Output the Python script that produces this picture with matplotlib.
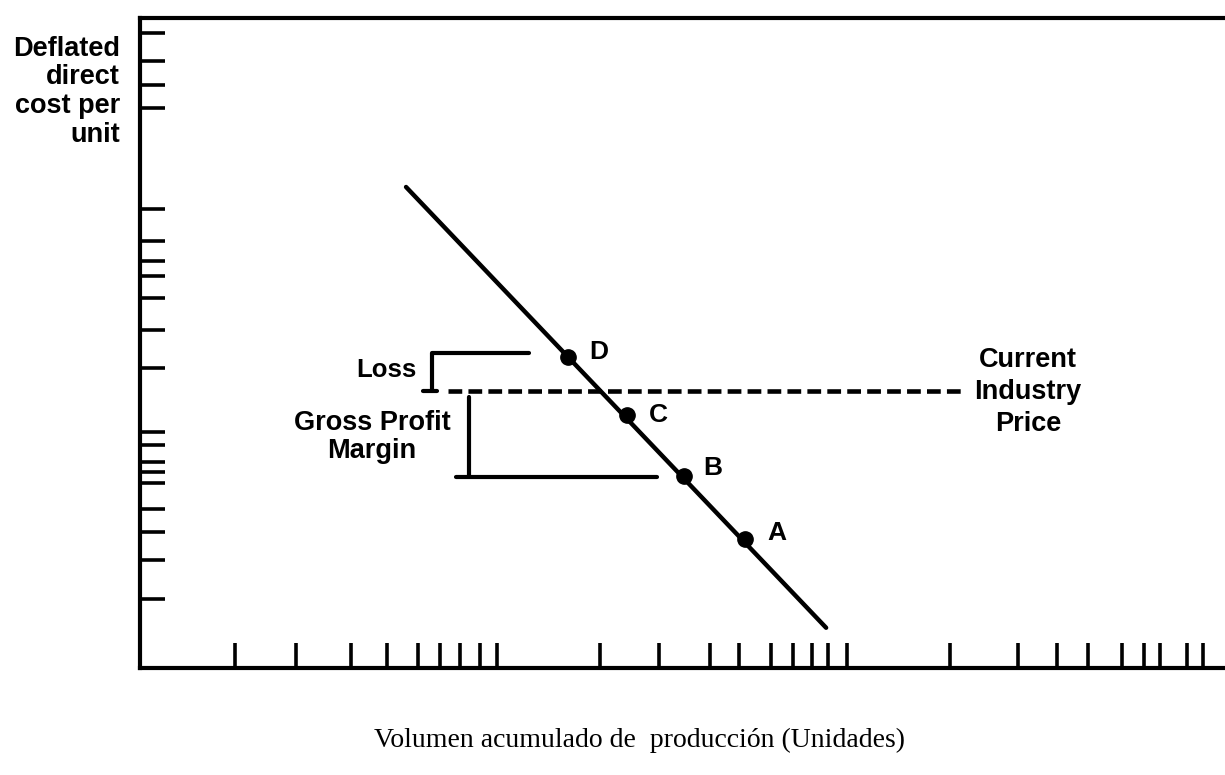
import matplotlib.pyplot as plt

# Curva de experiencia (volumen acumulado vs. coste unitario, escala log-log)
curva_volumen = [5.44, 78.9]
curva_coste = [30.2, 1.33]

puntos = ["D", "C", "B", "A"]
puntos_volumen = [15.26, 22.2, 31.9, 47.1]
puntos_coste = [9.06, 6.00, 3.90, 2.49]

# Precio actual de la industria
precio = 7.12
precio_desde = 7.11
precio_hasta = 191

# Corchetes de pérdida y margen bruto
perdida_x = 6.42
perdida_tope = 9.31
perdida_hasta = 11.9
perdida_pie = [6.06, 6.63]
margen_x = 8.12
margen_desde = 6.82
margen_fondo = 3.87
margen_linea = [7.48, 26.9]

# Marcas de los ejes (dibujadas a mano en el original)
marcas_x = [1.83, 2.70, 3.83, 4.82, 5.87, 6.75, 7.67, 8.71, 9.71,
            18.7, 27.2, 37.7, 45.3, 55.5, 63.9, 72.1, 79.9, 90.1,
            173.6, 267.7, 343.1, 418.0, 519.1, 597.0, 661.2, 785.2, 869.6]
marcas_y = [89.9, 73.8, 62.2, 52.9, 25.8, 20.6, 17.9, 16.1, 13.8, 11.0,
            8.38, 5.32, 4.86, 4.30, 4.01, 3.71, 3.08, 2.62, 2.15, 1.63]

desplaz_etiquetas = [(21, 5), (22, 0), (19, 8), (22, 6)]

plt.rcParams['font.family'] = ['Liberation Sans', 'DejaVu Sans']
plt.rcParams['font.weight'] = 'bold'

fig = plt.figure(figsize=(12.25, 7.75), dpi=100)
ax = fig.add_axes([140 / 1225, 1 - 668 / 775, 1 - 140 / 1225, 650 / 775])
ax.set_xscale('log')
ax.set_yscale('log')
ax.set_xlim(1, 1000)
ax.set_ylim(1, 100)

# Curva y puntos
ax.plot(curva_volumen, curva_coste, color='black', lw=3.2, solid_capstyle='round')
ax.plot(puntos_volumen, puntos_coste, 'o', color='black', ms=11)
for nombre, x, y, d in zip(puntos, puntos_volumen, puntos_coste, desplaz_etiquetas):
  ax.annotate(nombre, (x, y), xytext=d, textcoords='offset pixels',
              ha='left', va='center', fontsize=19)

# Línea de precio
ax.plot([precio_desde, precio_hasta], [precio, precio], color='black', lw=3.3,
        dashes=(3.0, 1.35), dash_capstyle='butt')
ax.text(285, 7.07, "Current\nIndustry\nPrice", ha='center', va='center',
        fontsize=19.5, linespacing=1.32)

# Corchete de pérdida
ax.plot([perdida_hasta, perdida_x, perdida_x], [perdida_tope, perdida_tope, precio],
        color='black', lw=3, solid_capstyle='round')
ax.plot(perdida_pie, [precio, precio], color='black', lw=3, solid_capstyle='round')
ax.text(5.83, 8.26, "Loss", ha='right', va='center', fontsize=18.5)

# Corchete de margen bruto
ax.plot([margen_x, margen_x], [margen_desde, margen_fondo], color='black', lw=3,
        solid_capstyle='round')
ax.plot(margen_linea, [margen_fondo, margen_fondo], color='black', lw=3,
        solid_capstyle='round')
ax.text(4.38, 5.14, "Gross Profit\nMargin", ha='center', va='center',
        fontsize=19.5, linespacing=1.06)

# Ejes
ax.spines['right'].set_visible(False)
for lado in ['left', 'top', 'bottom']:
  ax.spines[lado].set_linewidth(3)
ax.set_xticks(marcas_x)
ax.set_yticks(marcas_y)
ax.minorticks_off()
ax.set_xticklabels([])
ax.set_yticklabels([])
ax.tick_params(direction='in', length=18, width=2.6, top=False, right=False)

ax.set_ylabel("Deflated\ndirect\ncost per\nunit", rotation=0, ha='right', va='top',
              multialignment='right', fontsize=19.5, fontweight='bold',
              linespacing=1.14)
ax.yaxis.set_label_coords(-0.0185, 0.973)
ax.set_xlabel("Volumen acumulado de  producción (Unidades)", family='Liberation Serif',
              fontweight='normal', fontsize=20, va='center')
ax.xaxis.set_label_coords(0.46, -0.111)

fig.savefig('out.png', dpi=100)
